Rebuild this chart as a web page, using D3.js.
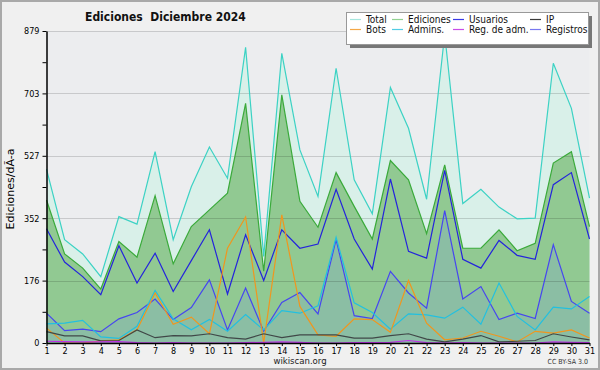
<!DOCTYPE html>
<html>
<head>
<meta charset="utf-8">
<script src="https://cdn.jsdelivr.net/npm/d3@7"></script>
<style>
  body { margin: 0; background: #f0f0f0; }
  svg text { font-family: "DejaVu Sans Condensed", "DejaVu Sans", sans-serif; font-stretch: condensed; }
</style>
</head>
<body>
<div class="chart"></div>
<script>
// Datos (ediciones por dia, diciembre 2024)
const days = [1,2,3,4,5,6,7,8,9,10,11,12,13,14,15,16,17,18,19,20,21,22,23,24,25,26,27,28,29,30,31];
const total = [490,291,251,187,356,335,539,291,440,552,464,833,244,816,544,413,774,460,364,720,605,405,870,393,433,383,350,352,788,661,408];
const ediciones = [403,251,211,152,286,242,415,223,328,375,422,675,202,699,399,326,480,385,293,514,460,308,502,267,267,319,260,281,507,539,328];
const usuarios = [322,228,187,136,274,169,253,145,232,319,138,305,176,319,267,279,433,293,208,462,258,239,486,236,211,289,247,236,446,480,293];
const ip = [32,20,20,6,7,37,15,21,20,26,15,11,26,15,23,23,23,14,14,21,26,11,3,11,21,3,5,7,26,17,9];
const bots = [42,0,0,6,9,37,141,53,73,26,267,355,0,361,103,23,19,68,66,30,176,56,9,14,33,19,3,33,28,37,14];
const admins = [54,56,64,17,13,47,148,68,37,66,33,80,37,91,84,105,298,113,86,39,82,79,70,101,53,169,75,37,101,96,131];
const regAdm = [5,4,3,3,4,1,0,1,0,0,0,1,2,3,2,0,0,1,1,2,7,1,0,1,0,0,0,0,3,2,1];
const registros = [84,35,39,32,68,86,124,66,100,178,37,155,33,114,142,82,291,77,69,202,141,98,373,124,159,66,84,69,277,117,84];
const yMax = 879;
const yTickLabels = [0,176,352,527,703,879];

const width = 600, height = 370;
const margin = {top:31, bottom:27, left:46.5, right:10.5};
const plotH = height - margin.top - margin.bottom;

const svg = d3.select('.chart').append('svg')
  .attr('width', width).attr('height', height);

// fondo + borde
svg.append('rect').attr('x',1).attr('y',1).attr('width',width-2).attr('height',height-2)
  .attr('fill','#f0f0f0').attr('stroke','#a9a9a9').attr('stroke-width',2);

const x = d3.scaleLinear().domain([1,31]).range([margin.left, width - margin.right]);
const y = d3.scaleLinear().domain([0,yMax]).range([margin.top + plotH, margin.top]);

svg.append('rect')
  .attr('x', x(1)).attr('y', y(yMax))
  .attr('width', x(31)-x(1)).attr('height', y(0)-y(yMax))
  .attr('fill','#ecedef');

const rows = days.map((d,i) => ({day:d, total:total[i], ediciones:ediciones[i], usuarios:usuarios[i],
  ip:ip[i], bots:bots[i], admins:admins[i], regAdm:regAdm[i], registros:registros[i]}));

const area = key => d3.area().x(d=>x(d.day)).y0(y(0)).y1(d=>y(d[key]));
const line = key => d3.line().x(d=>x(d.day)).y(d=>y(d[key]));

// areas
svg.append('path').datum(rows).attr('d', area('total')).attr('fill','#d9f0e9');
svg.append('path').datum(rows).attr('d', area('ediciones')).attr('fill','#91c992');
svg.append('path').datum(rows).attr('d', area('registros')).attr('fill','#8bbea4');

// lineas de la cuadricula
svg.append('g').selectAll('line').data(yTickLabels.slice(1)).enter().append('line')
  .attr('x1', x(1)).attr('x2', x(31))
  .attr('y1', d=>Math.round(y(d))+0.5).attr('y2', d=>Math.round(y(d))+0.5)
  .attr('stroke','rgba(0,0,0,0.15)');

// series
const series = [
  {key:'total', name:'Total', color:'#3cd2c4', legend:'#a6e6de'},
  {key:'ediciones', name:'Ediciones', color:'#3aaa3a', legend:'#92d292'},
  {key:'usuarios', name:'Usuarios', color:'#2424dc', legend:'#3a3ae6'},
  {key:'ip', name:'IP', color:'#404848', legend:'#3a3a3a'},
  {key:'bots', name:'Bots', color:'#f0961e', legend:'#f4a848'},
  {key:'admins', name:'Admins.', color:'#22c0e0', legend:'#52cce4'},
  {key:'regAdm', name:'Reg. de adm.', color:'#c030e8', legend:'#c84ee8'},
  {key:'registros', name:'Registros', color:'#4646f0', legend:'#7878f0'}
];
const drawOrder = ['total','ediciones','usuarios','registros','admins','bots','ip','regAdm'];
drawOrder.forEach(k => {
  const s = series.find(d=>d.key===k);
  svg.append('path').datum(rows).attr('d', line(k))
    .attr('fill','none').attr('stroke', s.color).attr('stroke-width', 1.2);
});

// ejes
const yAxis = d3.axisLeft(y).tickValues(d3.range(0,11).map(i=>yMax*i/10))
  .tickSize(4).tickSizeOuter(0)
  .tickFormat((d,i) => i % 2 === 0 ? yTickLabels[i/2] : '');
const yg = svg.append('g').attr('transform',`translate(${margin.left},0)`).call(yAxis);
yg.selectAll('text').style('font-size','9px').attr('fill','#000');
yg.select('.domain').attr('stroke','#000').attr('stroke-width',1.5);

const xAxis = d3.axisBottom(x).tickValues(days).tickSize(3).tickSizeOuter(0).tickFormat(d=>d);
const xg = svg.append('g').attr('transform',`translate(0,${y(0)})`).call(xAxis);
xg.selectAll('text').style('font-size','9px').attr('fill','#000').attr('dy','0.55em');
xg.select('.domain').attr('stroke','#000').attr('stroke-width',1.5);

// titulo
svg.append('text').attr('x',85).attr('y',21).text('Ediciones  Diciembre 2024')
  .style('font-size','12px').style('font-weight','bold').attr('fill','#111')
  .attr('xml:space','preserve').style('white-space','pre');

// etiqueta eje y
svg.append('text').attr('transform','translate(13.5,189) rotate(-90)')
  .attr('text-anchor','middle')
  .style('font-family','"DejaVu Sans", sans-serif').style('font-stretch','normal')
  .style('font-size','11px').text('Ediciones/dÃ-a');

// pie
svg.append('text').attr('x',300).attr('y',364).attr('text-anchor','middle')
  .style('font-size','9.5px').attr('fill','#222').text('wikiscan.org');
svg.append('text').attr('x',588).attr('y',364).attr('text-anchor','end')
  .style('font-size','7px').attr('fill','#333').text('CC BY-SA 3.0');

// leyenda
const lg = svg.append('g');
lg.append('rect').attr('x',350).attr('y',16).attr('width',242).attr('height',32).attr('fill','#777');
lg.append('rect').attr('x',346.5).attr('y',12.5).attr('width',242).attr('height',32)
  .attr('fill','#fff').attr('stroke','#999');
const colX = [350, 392, 453, 530];
series.forEach((s,i) => {
  const cx = colX[i%4], cy = i<4 ? 19.5 : 29.5;
  lg.append('line').attr('x1',cx).attr('x2',cx+11).attr('y1',cy).attr('y2',cy)
    .attr('stroke', s.legend).attr('stroke-width',1.2);
  lg.append('text').attr('x',cx+16).attr('y',cy+3.5).style('font-size','10px')
    .attr('fill','#111').text(s.name);
});
</script>
</body>
</html>
